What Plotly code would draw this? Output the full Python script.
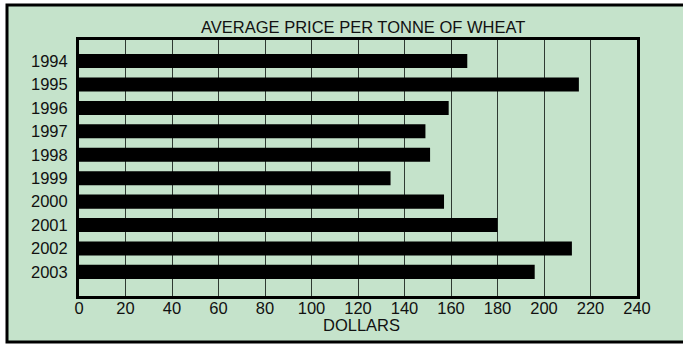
import plotly.graph_objects as go

# Average price per tonne of wheat, by year (dollars)
years = ["1994", "1995", "1996", "1997", "1998", "1999", "2000", "2001", "2002", "2003"]
prices = [167, 215, 159, 149, 151, 134, 157, 180, 212, 196]
x_ticks = list(range(0, 241, 20))

GREEN = "#C5E3CB"
W, H = 683, 344
L, R, T, B = 79, 46, 40, 48
pw, ph = W - L - R, H - T - B


def px_x(p):
    return (p - L) / pw


def px_y(p):
    return (H - B - p) / ph


fig = go.Figure(
    go.Bar(
        x=prices,
        y=years,
        orientation="h",
        width=0.6,
        marker=dict(color="black", line=dict(width=0)),
        hoverinfo="x+y",
    )
)

font = dict(family="Liberation Sans, Arial, sans-serif", size=16.5, color="#111111")

fig.update_layout(
    width=W,
    height=H,
    margin=dict(l=L, r=R, t=T, b=B),
    paper_bgcolor="white",
    plot_bgcolor=GREEN,
    showlegend=False,
    font=font,
    xaxis=dict(
        range=[0, 240],
        tickvals=x_ticks,
        ticktext=[str(v) for v in x_ticks],
        showgrid=True,
        gridcolor="#2f3a32",
        gridwidth=1,
        zeroline=False,
        showline=True,
        linecolor="black",
        linewidth=3,
        mirror=True,
        ticks="",
        ticklen=0,
        ticklabelstandoff=-5,
        tickfont=font,
    ),
    yaxis=dict(
        type="category",
        categoryorder="array",
        categoryarray=years,
        range=[10.03, -0.9],
        showgrid=False,
        zeroline=False,
        showline=True,
        linecolor="black",
        linewidth=3,
        mirror=True,
        ticks="",
        ticklen=0,
        ticklabelstandoff=5,
        tickfont=font,
    ),
    shapes=[
        # outer panel with border
        dict(
            type="rect",
            xref="paper",
            yref="paper",
            x0=px_x(7),
            x1=px_x(700),
            y0=px_y(342),
            y1=px_y(5),
            line=dict(color="black", width=3),
            fillcolor=GREEN,
            layer="below",
        )
    ],
    annotations=[
        dict(
            text="AVERAGE PRICE PER TONNE OF WHEAT",
            xref="paper",
            yref="paper",
            x=px_x(363),
            y=px_y(27),
            showarrow=False,
            xanchor="center",
            yanchor="middle",
            font=dict(family="Liberation Sans, Arial, sans-serif", size=16.5, color="#111111"),
        ),
        dict(
            text="DOLLARS",
            xref="paper",
            yref="paper",
            x=px_x(361),
            y=px_y(325),
            showarrow=False,
            xanchor="center",
            yanchor="middle",
            font=font,
        ),
    ],
)

fig.write_html("out.html")
